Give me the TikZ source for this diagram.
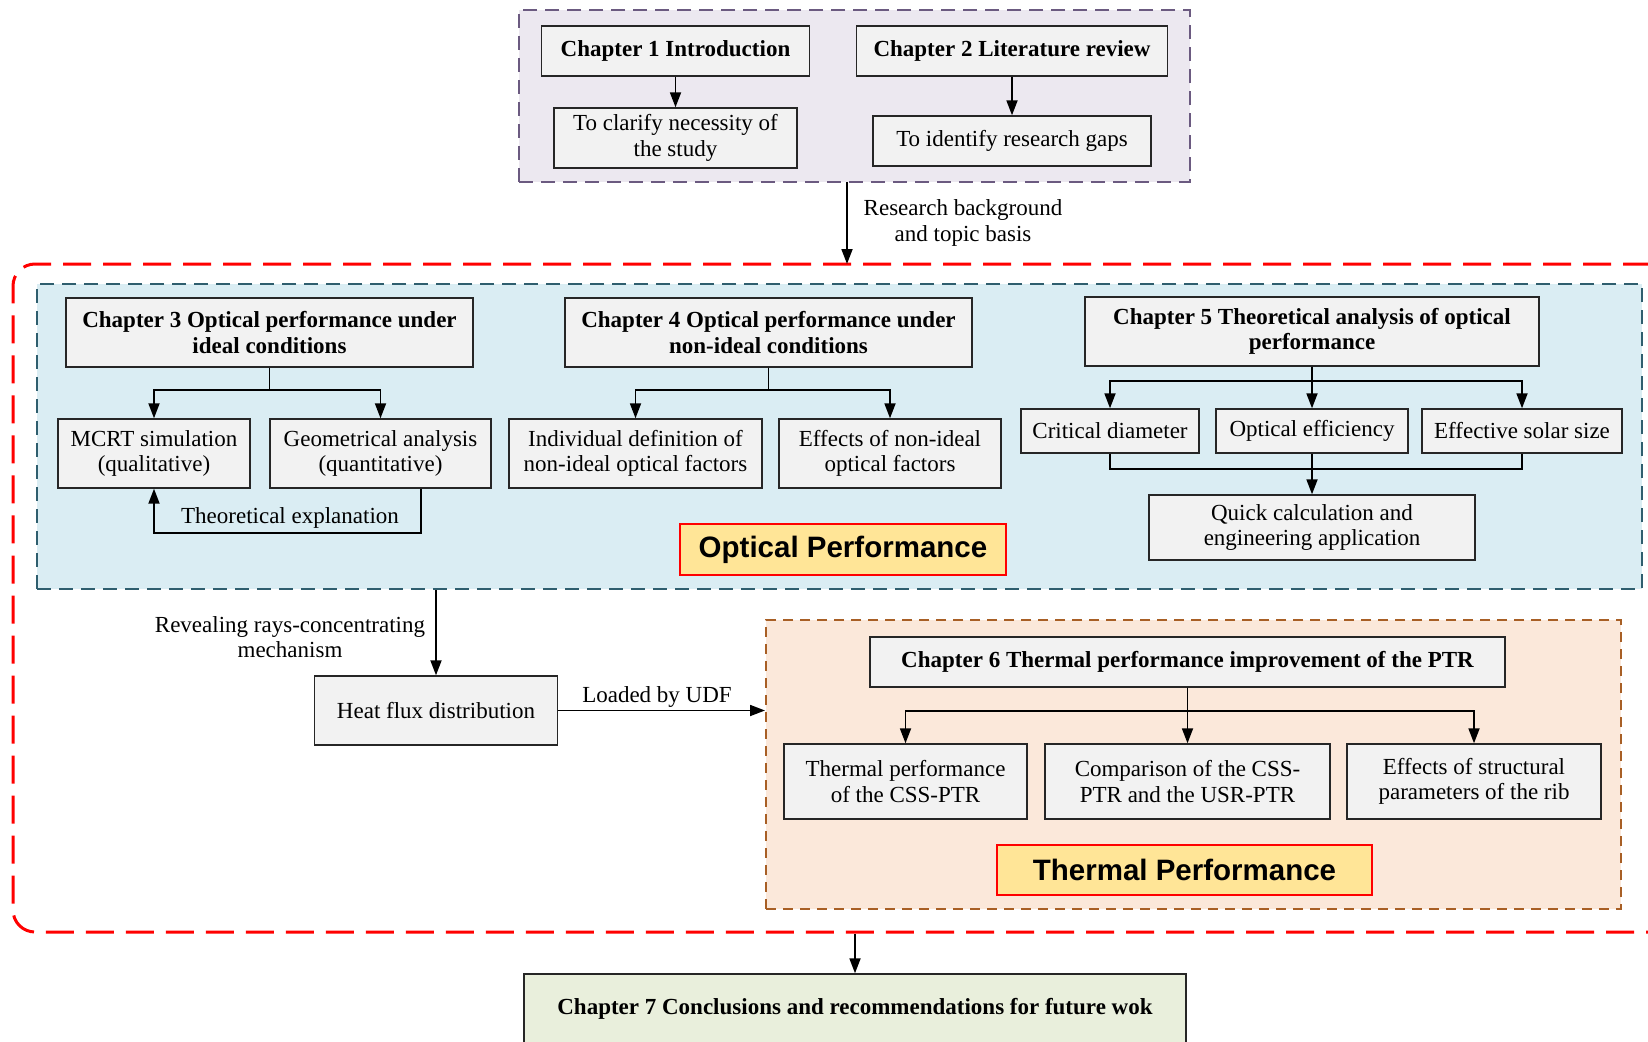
\documentclass[tikz,border=0pt]{standalone}
\usepackage{fontspec}
\setmainfont{Liberation Serif}
\newfontfamily\labelfont{Liberation Sans}
\usetikzlibrary{arrows.meta,calc}
\definecolor{boxfill}{HTML}{F2F2F2}
\definecolor{purplefill}{HTML}{ECE8F0}
\definecolor{purpleline}{HTML}{6B5A80}
\definecolor{bluefill}{HTML}{DAEDF3}
\definecolor{blueline}{HTML}{2F5E6E}
\definecolor{orangefill}{HTML}{FBE8DA}
\definecolor{orangeline}{HTML}{A85F25}
\definecolor{labelfill}{HTML}{FFE597}
\definecolor{greenfill}{HTML}{E9EFDC}
\tikzset{
  txt/.style={font=\fontsize{23}{25.5}\selectfont, align=center},
  box/.style={txt, draw=black!85, fill=boxfill, line width=1.4pt, inner sep=0pt},
  bbox/.style={box, font=\fontsize{23}{25.5}\selectfont\bfseries},
  lbox/.style={draw=red, fill=labelfill, line width=1.4pt, inner sep=0pt,
               font=\labelfont\fontsize{29.5}{32}\selectfont\bfseries},
  cont/.style={inner sep=0pt, line width=2pt},
  arr/.style={line width=1.8pt, -{Triangle[length=15pt,width=11pt]}},
  conn/.style={line width=1.8pt},
}
\begin{document}
\begin{tikzpicture}[x=1pt,y=-1pt]
\clip (0,0) rectangle (1648,1041);
\fill[white] (0,0) rectangle (1648,1041);

% containers
\node[cont, draw=purpleline, fill=purplefill, dash pattern=on 14pt off 8pt,
      minimum width=671pt, minimum height=172pt] (purple) at (854.5,96) {};
\node[cont, draw=red, line width=3pt, dash pattern=on 28pt off 12pt, rounded corners=22pt,
      minimum width=1660pt, minimum height=668pt] (red) at (843,598) {};
\node[cont, draw=blueline, fill=bluefill, dash pattern=on 14pt off 8pt,
      minimum width=1605pt, minimum height=305pt] (blue) at (839.5,436.5) {};
\node[cont, draw=orangeline, fill=orangefill, dash pattern=on 10pt off 7pt,
      minimum width=855pt, minimum height=289pt] (orange) at (1193.5,764.5) {};

% top
\node[bbox, minimum width=268pt, minimum height=50pt] (ch1) at (675.5,51) {Chapter 1 Introduction};
\node[box, minimum width=243pt, minimum height=60pt] (clar) at (675.5,138) {To clarify necessity of\\the study};
\node[bbox, minimum width=311pt, minimum height=50pt] (ch2) at (1012,51) {Chapter 2 Literature review};
\node[box, minimum width=278pt, minimum height=50pt] (gaps) at (1012,141) {To identify research gaps};
\draw[arr] (ch1.south) -- (clar.north);
\draw[arr] (ch2.south) -- (gaps.north);

\coordinate (p1) at (847,182);
\coordinate (p2) at (847,264);
\draw[arr] (p1) -- (p2);
\node[txt] (rbg) at (963,223) {Research background\\and topic basis};

% chapter 3
\node[bbox, minimum width=407pt, minimum height=69pt] (ch3) at (269.5,332.5) {Chapter 3 Optical performance under\\ideal conditions};
\node[box, minimum width=192pt, minimum height=69pt] (mcrt) at (154,453.5) {MCRT simulation\\(qualitative)};
\node[box, minimum width=221pt, minimum height=69pt] (geom) at (380.5,453.5) {Geometrical analysis\\(quantitative)};
\draw[arr] (ch3.south) -- ++(0,22) -| (mcrt.north);
\draw[arr] (ch3.south) -- ++(0,22) -| (geom.north);
\draw[arr] ([xshift=40.5pt]geom.south) -- ++(0,44) -| (mcrt.south);
\node[txt] (theo) at (290,518) {Theoretical explanation};

% chapter 4
\node[bbox, minimum width=407pt, minimum height=69pt] (ch4) at (768.5,332.5) {Chapter 4 Optical performance under\\non-ideal conditions};
\node[box, minimum width=253pt, minimum height=69pt] (indiv) at (635.5,453.5) {Individual definition of\\non-ideal optical factors};
\node[box, minimum width=222pt, minimum height=69pt] (effni) at (890,453.5) {Effects of non-ideal\\optical factors};
\draw[arr] (ch4.south) -- ++(0,22) -| (indiv.north);
\draw[arr] (ch4.south) -- ++(0,22) -| (effni.north);

% chapter 5
\node[bbox, minimum width=454pt, minimum height=69pt] (ch5) at (1312,331.5) {Chapter 5 Theoretical analysis of optical\\performance};
\node[box, minimum width=178pt, minimum height=44pt] (crit) at (1110,431) {Critical diameter};
\node[box, minimum width=192pt, minimum height=44pt] (opteff) at (1312,431) {Optical efficiency};
\node[box, minimum width=200pt, minimum height=44pt] (esize) at (1522,431) {Effective solar size};
\node[box, minimum width=326pt, minimum height=65pt] (quick) at (1312,527.5) {Quick calculation and\\engineering application};
\draw[arr] (ch5.south) -- ++(0,14) -| (crit.north);
\draw[arr] (ch5.south) -- (opteff.north);
\draw[arr] (ch5.south) -- ++(0,14) -| (esize.north);
\draw[conn] (crit.south) -- ++(0,15) -| (esize.south);
\draw[arr] (opteff.south) -- (quick.north);

\node[lbox, minimum width=326pt, minimum height=51pt] (optlab) at (843,549.5) {Optical Performance};

% heat flux
\node[box, minimum width=243pt, minimum height=69pt] (heat) at (436,710.5) {Heat flux distribution};
\draw[arr] (heat.north |- blue.south) -- (heat.north);
\node[txt] (reveal) at (290,637) {Revealing rays-concentrating\\mechanism};
\draw[arr] (heat.east) -- (heat.east -| orange.west);
\node[txt] (udf) at (657,697) {Loaded by UDF};

% chapter 6
\node[bbox, minimum width=635pt, minimum height=50pt] (ch6) at (1187.5,662) {Chapter 6 Thermal performance improvement of the PTR};
\node[box, minimum width=243pt, minimum height=75pt] (tp) at (905.5,781.5) {Thermal performance\\of the CSS-PTR};
\node[box, minimum width=285pt, minimum height=75pt] (comp) at (1187.5,781.5) {Comparison of the CSS-\\PTR and the USR-PTR};
\node[box, minimum width=254pt, minimum height=75pt] (struct) at (1474,781.5) {Effects of structural\\parameters of the rib};
\draw[arr] (ch6.south) -- ++(0,23) -| (tp.north);
\draw[arr] (ch6.south) -- (comp.north);
\draw[arr] (ch6.south) -- ++(0,23) -| (struct.north);

\node[lbox, minimum width=375pt, minimum height=50pt] (thlab) at (1184.5,870) {Thermal Performance};

% chapter 7
\node[box, fill=greenfill, minimum width=662pt, minimum height=72pt] (ch7box) at (855,1010) {};
\node[txt, font=\fontsize{23}{25.5}\selectfont\bfseries] (ch7) at (855,1009) {Chapter 7 Conclusions and recommendations for future wok};
\draw[arr] (ch7box.north |- red.south) -- (ch7box.north);
\end{tikzpicture}
\end{document}
